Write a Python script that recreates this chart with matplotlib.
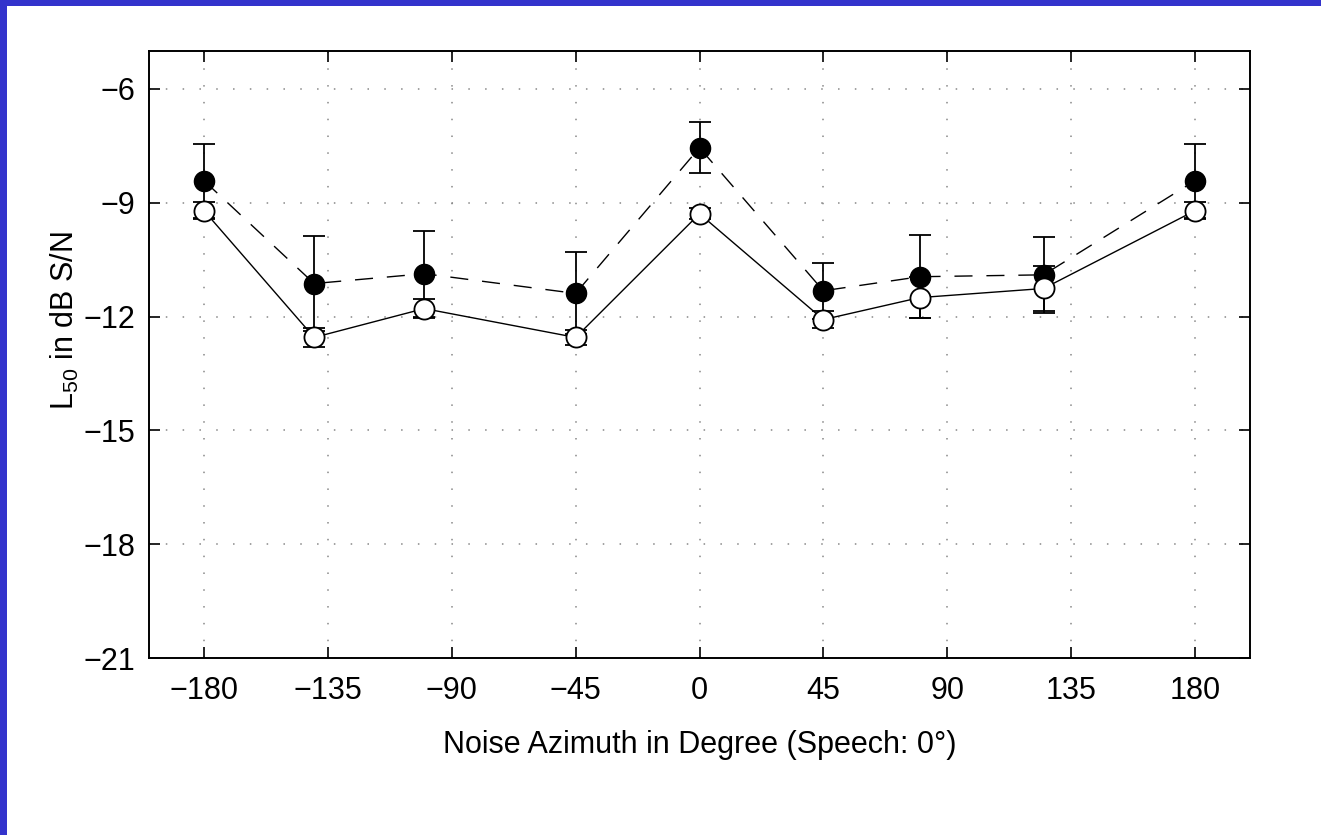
import matplotlib
matplotlib.use("Agg")
import matplotlib.pyplot as plt
from matplotlib.patches import Rectangle

# Noise azimuths (degrees) at which L50 was measured
azimuth = [-180, -140, -100, -45, 0, 45, 80, 125, 180]

# Filled circles, dashed line
l50_filled = [-8.42, -11.13, -10.87, -11.39, -7.55, -11.32, -10.95, -10.90, -8.42]
err_filled = [0.97, 1.26, 1.13, 1.08, 0.67, 0.74, 1.10, 1.00, 0.97]

# Open circles, solid line
l50_open = [-9.21, -12.55, -11.79, -12.55, -9.29, -12.08, -11.50, -11.26, -9.21]
err_open = [0.22, 0.24, 0.26, 0.20, 0.15, 0.22, 0.55, 0.60, 0.22]

xticks = [-180, -135, -90, -45, 0, 45, 90, 135, 180]
yticks = [-21, -18, -15, -12, -9, -6]

plt.rcParams["font.family"] = ["Liberation Sans", "DejaVu Sans"]
plt.rcParams["mathtext.fontset"] = "custom"
plt.rcParams["mathtext.rm"] = "Liberation Sans"

fig = plt.figure(figsize=(13.21, 8.35), dpi=100)
fig.patch.set_facecolor("white")

# Blue frame strips along the top and left edges
fig.patches.append(Rectangle((0, 1 - 6 / 835), 1, 6 / 835, transform=fig.transFigure,
                             facecolor="#3333cc", edgecolor="none", zorder=0))
fig.patches.append(Rectangle((0, 0), 7 / 1321, 1, transform=fig.transFigure,
                             facecolor="#3333cc", edgecolor="none", zorder=0))

ax = fig.add_axes([149 / 1321, 1 - 658 / 835, (1250 - 149) / 1321, (658 - 51) / 835])

ax.errorbar(azimuth, l50_filled, yerr=err_filled, color="black", lw=1.0,
            dashes=(13, 10), marker="o", ms=14.5, mfc="black", mec="black",
            ecolor="black", elinewidth=1.3, capsize=8, capthick=1.3, zorder=3)
ax.errorbar(azimuth, l50_open, yerr=err_open, color="black", lw=1.0,
            linestyle="-", marker="o", ms=14.5, mfc="white", mec="black", mew=1.3,
            ecolor="black", elinewidth=1.3, capsize=8, capthick=1.3, zorder=4)

ax.set_xlim(-200, 200)
ax.set_ylim(-21, -5)
ax.set_xticks(xticks)
ax.set_yticks(yticks)
ax.set_xticklabels([str(v).replace("-", "\u2212") for v in xticks])
ax.set_yticklabels([str(v).replace("-", "\u2212") for v in yticks])

ax.grid(True, color="#888888", linestyle=(0, (1, 10)), linewidth=1.1)
ax.tick_params(direction="in", length=8, width=1.2, top=True, right=True,
               labelsize=22, colors="black")
ax.tick_params(axis="x", pad=13)
ax.tick_params(axis="y", pad=10)
for s in ax.spines.values():
    s.set_linewidth(1.4)

ax.set_xlabel("Noise Azimuth in Degree (Speech: 0\u00b0)", fontsize=22)
ax.set_ylabel(r"$\mathregular{L_{50}}$ in dB S/N", fontsize=22)
ax.xaxis.set_label_coords(0.5, -0.118)
ax.yaxis.set_label_coords(-0.062, 0.555)

fig.savefig("out.png", dpi=100, facecolor="white")
